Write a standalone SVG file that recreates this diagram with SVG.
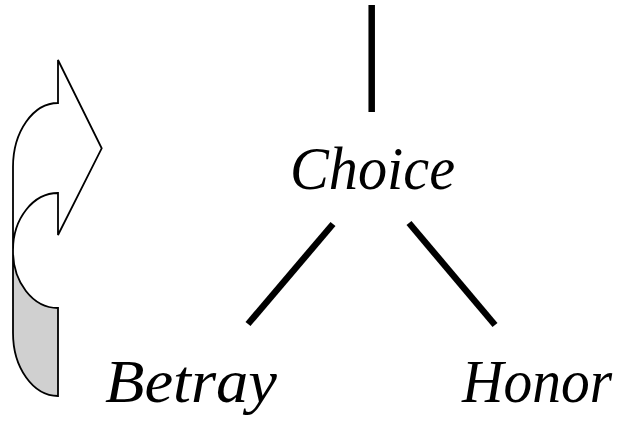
<svg xmlns="http://www.w3.org/2000/svg" width="634" height="421" viewBox="0 0 634 421">
<style>
.lbl{font-family:"Liberation Serif","DejaVu Serif",serif;font-style:italic;font-size:62px;fill:#000}
.conn{stroke:#000;stroke-width:6.5;fill:none;stroke-linecap:butt}
.shape{stroke:#000;stroke-width:1.8;stroke-linejoin:miter}
</style>
<rect width="634" height="421" fill="#fff"/>
<g id="curved-arrow">
<path class="shape" fill="#d0d0d0" d="M13,250 L13,333 A45,63 0 0 0 58,396 L58,308 A45,57 0 0 1 13,250 Z"/>
<path class="shape" fill="#fff" d="M58,103 A45,64 0 0 0 13,167 L13,250 A45,57 0 0 1 58,193 L58,235 L101.7,148.3 L58,60 Z"/>
</g>
<g id="connectors">
<line class="conn" x1="371.7" y1="5" x2="371.7" y2="112"/>
<line class="conn" x1="333" y1="224" x2="248" y2="324"/>
<line class="conn" x1="409" y1="223" x2="495" y2="325"/>
</g>
<g id="node-choice">
<text class="lbl" x="290" y="189" textLength="165" lengthAdjust="spacingAndGlyphs">Choice</text>
</g>
<g id="node-betray">
<text class="lbl" x="105" y="402" textLength="172" lengthAdjust="spacingAndGlyphs">Betray</text>
</g>
<g id="node-honor">
<text class="lbl" x="462" y="402" textLength="150" lengthAdjust="spacingAndGlyphs">Honor</text>
</g>
</svg>
